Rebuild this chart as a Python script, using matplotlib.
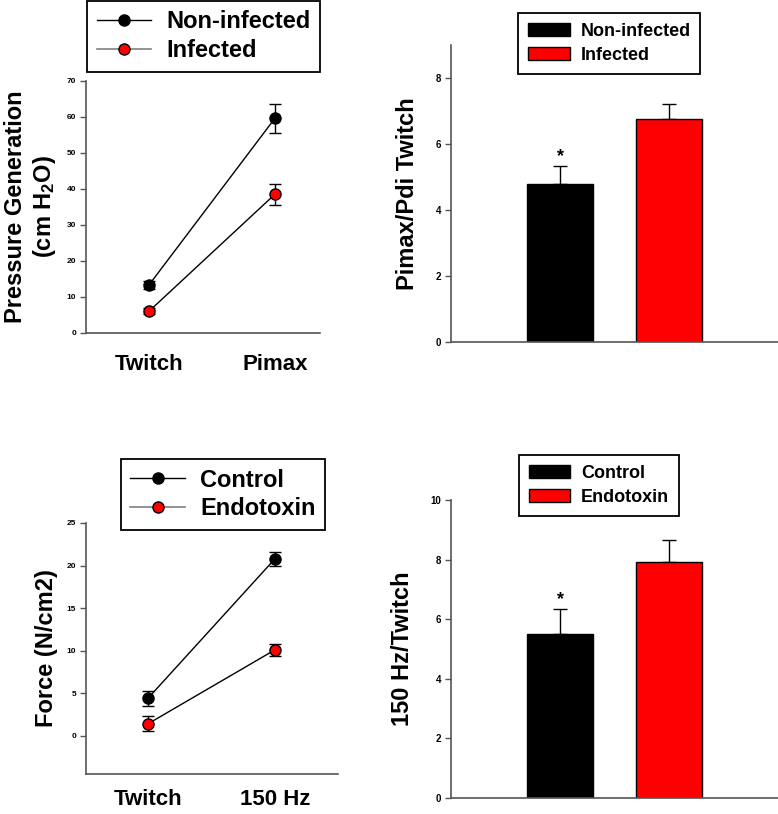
import matplotlib

matplotlib.use("Agg")
import matplotlib.pyplot as plt
from matplotlib.lines import Line2D
from matplotlib.patches import Patch

plt.rcParams["font.family"] = ["Liberation Sans", "DejaVu Sans"]
plt.rcParams["font.weight"] = "bold"
plt.rcParams["mathtext.fontset"] = "custom"
plt.rcParams["mathtext.rm"] = "Liberation Sans:bold"
plt.rcParams["mathtext.bf"] = "Liberation Sans:bold"
plt.rcParams["mathtext.default"] = "bf"

# --- data ---------------------------------------------------------------
pressure_cats = ["Twitch", "Pimax"]
noninf_mean = [13.3, 59.6]
noninf_err = [1.0, 4.0]
inf_mean = [6.0, 38.5]
inf_err = [0.8, 3.0]

ratio_groups = ["Non-infected", "Infected"]
ratio_mean = [4.8, 6.75]
ratio_err = [0.52, 0.46]

force_cats = ["Twitch", "150 Hz"]
control_mean = [4.4, 20.8]
control_err = [0.9, 0.8]
endo_mean = [1.4, 10.1]
endo_err = [0.9, 0.7]

hz_groups = ["Control", "Endotoxin"]
hz_mean = [5.5, 7.92]
hz_err = [0.83, 0.74]

AXIS_COL = "#555555"


def style_axes(ax, tick_size):
    for side in ("top", "right"):
        ax.spines[side].set_visible(False)
    for side in ("left", "bottom"):
        ax.spines[side].set_color(AXIS_COL)
        ax.spines[side].set_linewidth(1.2)
    ax.tick_params(axis="y", direction="out", length=4, width=1, color=AXIS_COL,
                   labelsize=tick_size, pad=3)
    for lab in ax.get_yticklabels():
        lab.set_fontweight("bold")


def line_panel(ax, cats, m1, e1, m2, e2, names, ylim, yticks, ylabel,
               xlim, leg_anchor, tick_size, xpad):
    x = list(range(len(cats)))
    ax.errorbar(x, m1, yerr=e1, color="black", marker="o", ms=8,
                mfc="black", mec="black", lw=1, capsize=4, elinewidth=1, zorder=3)
    ax.errorbar(x, m2, yerr=e2, color="black", marker="o", ms=8,
                mfc="red", mec="black", lw=1, capsize=4, elinewidth=1, zorder=3)
    ax.set_xlim(*xlim)
    ax.set_ylim(*ylim)
    ax.set_yticks(yticks)
    ax.set_xticks(x)
    ax.set_xticklabels(cats, fontsize=16, fontweight="bold")
    ax.tick_params(axis="x", length=0, pad=xpad)
    ax.set_ylabel(ylabel, fontsize=17, fontweight="bold", labelpad=6)
    style_axes(ax, tick_size)
    handles = [
        Line2D([], [], color="black", lw=1, marker="o", ms=8, mfc="black", mec="black"),
        Line2D([], [], color="gray", lw=1.2, marker="o", ms=8, mfc="red", mec="black"),
    ]
    leg = ax.legend(handles, names, loc="upper left", bbox_to_anchor=leg_anchor,
                    bbox_transform=ax.figure.transFigure, fancybox=False,
                    edgecolor="black", framealpha=1, borderaxespad=0,
                    prop={"size": 17, "weight": "bold"}, handlelength=2.3,
                    handletextpad=0.65, borderpad=0.4, labelspacing=0.25)
    leg.get_frame().set_linewidth(1.3)


def bar_panel(ax, groups, means, errs, ylim, yticks, ylabel, leg_anchor, tick_size):
    x = list(range(len(groups)))
    colors = ["black", "red"]
    ax.bar(x, means, width=0.6, color=colors, edgecolor="black", lw=1, zorder=2)
    ax.errorbar(x, means, yerr=[[0] * len(errs), errs], fmt="none", ecolor="black",
                elinewidth=1, capsize=5, zorder=1)
    # significance mark above the first group
    ax.text(x[0], means[0] + errs[0] + 0.05 * (ylim[1] / 9), "*", ha="center",
            va="bottom", fontsize=13, fontweight="bold")
    ax.set_xlim(-1, 2)
    ax.set_ylim(*ylim)
    ax.set_yticks(yticks)
    ax.set_xticks([])
    ax.set_ylabel(ylabel, fontsize=17, fontweight="bold", labelpad=12)
    style_axes(ax, tick_size)
    handles = [Patch(facecolor=c, edgecolor="black") for c in colors]
    leg = ax.legend(handles, groups, loc="upper left", bbox_to_anchor=leg_anchor,
                    bbox_transform=ax.figure.transFigure, fancybox=False,
                    edgecolor="black", framealpha=1, borderaxespad=0,
                    prop={"size": 13, "weight": "bold"}, handlelength=2.3,
                    handleheight=0.75, handletextpad=0.6, borderpad=0.55,
                    labelspacing=0.4)
    leg.get_frame().set_linewidth(1.3)


fig = plt.figure(figsize=(7.78, 8.14), dpi=100)

ax1 = fig.add_axes([0.1105, 0.591, 0.3005, 0.3095])
line_panel(ax1, pressure_cats, noninf_mean, noninf_err, inf_mean, inf_err,
           ["Non-infected", "Infected"], (0, 70), range(0, 71, 10),
           "Pressure Generation\n(cm H$_2$O)", (-0.5, 1.357), (0.112, 0.9988), 6, 15)

ax2 = fig.add_axes([0.5797, 0.5799, 0.4203, 0.3648])
bar_panel(ax2, ratio_groups, ratio_mean, ratio_err, (0, 9), range(0, 9, 2),
          "Pimax/Pdi Twitch", (0.666, 0.984), 7)

ax3 = fig.add_axes([0.1105, 0.0491, 0.324, 0.3084])
line_panel(ax3, force_cats, control_mean, control_err, endo_mean, endo_err,
           ["Control", "Endotoxin"], (-4.5, 25), range(0, 26, 5),
           "Force (N/cm2)", (-0.488, 1.496), (0.1555, 0.436), 6, 11)

ax4 = fig.add_axes([0.5797, 0.0197, 0.4203, 0.366])
bar_panel(ax4, hz_groups, hz_mean, hz_err, (0, 10), range(0, 11, 2),
          "150 Hz/Twitch", (0.667, 0.441), 7)

fig.savefig("out.png", dpi=100)
